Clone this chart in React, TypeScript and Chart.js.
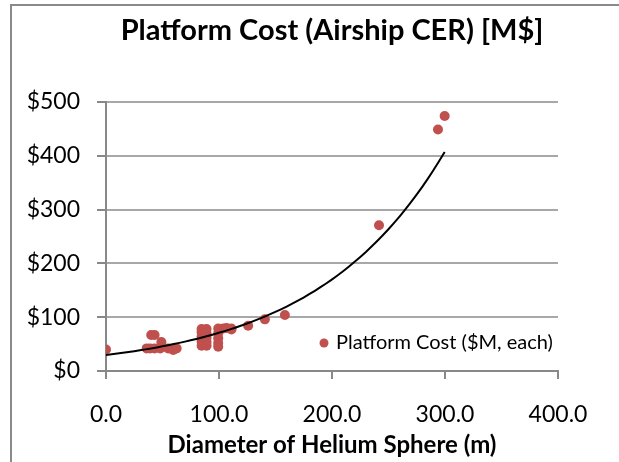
import React, { useEffect, useRef } from "react";
import { Chart, registerables } from "chart.js";

Chart.register(...registerables);

// ---- data ----
const diameters = [
  0, 36, 39, 43, 48, 40, 43, 49, 55, 59.5, 62.5,
  84.6, 84.6, 84.6, 84.6, 84.6,
  89, 89, 89, 89, 89,
  99.3, 99.3, 99.3, 99.3, 99.3,
  103.7, 106.7, 111, 111, 125.8, 140.6, 158.3, 241.6, 293.8, 299.7,
];
const costs = [
  40, 42, 42, 42, 42, 67, 67, 54, 42, 39, 42,
  78, 72, 64, 55, 47,
  78, 70, 62, 54, 47,
  79, 70, 61, 52, 45,
  79, 80, 79, 77, 84, 96, 104, 271, 449, 474,
];
const xTicks = [0, 100, 200, 300, 400];
const yTicks = [0, 100, 200, 300, 400, 500];
const seriesLabel = "Platform Cost ($M, each)";
const chartTitle = "Platform Cost (Airship CER) [M$]";
const xAxisTitle = "Diameter of Helium Sphere (m)";

// exponential trendline (least squares on ln y), as a spreadsheet would fit it
function expFit(xs: number[], ys: number[]) {
  const n = xs.length;
  const ly = ys.map((v) => Math.log(v));
  const mx = xs.reduce((a, b) => a + b, 0) / n;
  const my = ly.reduce((a, b) => a + b, 0) / n;
  let sxx = 0, sxy = 0;
  for (let i = 0; i < n; i++) {
    sxx += (xs[i] - mx) * (xs[i] - mx);
    sxy += (xs[i] - mx) * (ly[i] - my);
  }
  const b = sxy / sxx;
  const a = Math.exp(my - b * mx);
  return { a, b };
}

const RED = "#C0504D";
const AXIS = "#888888";
const GRID = "#a8a8a8";

const insideLegend = {
  id: "insideLegend",
  afterDraw(chart: any) {
    const { ctx, chartArea } = chart;
    const ds = chart.data.datasets[1];
    const x = chartArea.left + 218;
    const y = chartArea.bottom - 28;
    ctx.save();
    ctx.fillStyle = ds.backgroundColor;
    ctx.beginPath();
    ctx.arc(x, y, 4.5, 0, Math.PI * 2);
    ctx.fill();
    ctx.font = "20px Lato";
    ctx.fillStyle = "#000";
    ctx.textBaseline = "middle";
    ctx.textAlign = "left";
    ctx.fillText(ds.label, x + 12, y);
    ctx.restore();
  },
};

export default function App() {
  const ref = useRef<HTMLCanvasElement | null>(null);

  useEffect(() => {
    if (!ref.current) return;
    const { a, b } = expFit(diameters, costs);
    const xMin = Math.min(...diameters);
    const xMax = Math.max(...diameters);
    const trend: { x: number; y: number }[] = [];
    const steps = 60;
    for (let i = 0; i <= steps; i++) {
      const x = xMin + ((xMax - xMin) * i) / steps;
      trend.push({ x, y: a * Math.exp(b * x) });
    }
    const points = diameters.map((x, i) => ({ x, y: costs[i] }));

    const chart = new Chart(ref.current, {
      type: "scatter",
      data: {
        datasets: [
          {
            type: "line",
            label: "Expon. trend",
            data: trend,
            borderColor: "#000",
            borderWidth: 2,
            pointRadius: 0,
            fill: false,
            tension: 0,
          } as any,
          {
            label: seriesLabel,
            data: points,
            backgroundColor: RED,
            borderColor: RED,
            borderWidth: 0,
            pointRadius: 5,
          },
        ],
      },
      plugins: [insideLegend],
      options: {
        animation: false,
        responsive: false,
        devicePixelRatio: 1,
        layout: { padding: { left: 0, right: 61, top: 0, bottom: 0 } },
        plugins: {
          legend: { display: false },
          tooltip: { enabled: false },
          title: {
            display: true,
            text: chartTitle,
            color: "#000",
            fullSize: false,
            font: { family: "Lato", size: 29, weight: "bold" },
            padding: { top: 13, bottom: 54.2 },
          },
        },
        scales: {
          x: {
            type: "linear",
            min: 0,
            max: 400,
            afterFit: (s: any) => {
              s.height = 91;
            },
            afterBuildTicks: (s: any) => {
              s.ticks = xTicks.map((v) => ({ value: v }));
            },
            ticks: {
              color: "#000",
              font: { family: "Lato", size: 23 },
              padding: 22,
              callback: (v: any) => Number(v).toFixed(1),
            },
            grid: {
              drawOnChartArea: false,
              drawTicks: true,
              tickLength: 8,
              tickColor: AXIS,
              lineWidth: 2,
              color: AXIS,
            },
            border: { display: true, color: AXIS, width: 2 },
            title: {
              display: true,
              text: xAxisTitle,
              color: "#000",
              font: { family: "Lato", size: 24, weight: "bold" },
              padding: { top: 0, bottom: 2 },
            },
          },
          y: {
            type: "linear",
            min: 0,
            max: 500,
            afterFit: (s: any) => {
              s.width = 106;
            },
            afterBuildTicks: (s: any) => {
              s.ticks = yTicks.map((v) => ({ value: v }));
            },
            ticks: {
              color: "#000",
              font: { family: "Lato", size: 23 },
              padding: 17,
              callback: (v: any) => "$" + v,
            },
            grid: {
              color: GRID,
              lineWidth: 2,
              drawTicks: true,
              tickLength: 9,
              tickColor: AXIS,
            },
            border: { display: true, color: AXIS, width: 2 },
          },
        },
      },
    });
    return () => chart.destroy();
  }, []);

  return (
    <div
      style={{
        position: "fixed",
        left: 0,
        top: 0,
        width: 619,
        height: 462,
        overflow: "hidden",
        background: "#fff",
      }}
    >
      <div
        style={{
          position: "absolute",
          left: 10,
          top: 4,
          width: 800,
          height: 800,
          borderTop: "2px solid #8a8a8a",
          borderLeft: "2px solid #8a8a8a",
        }}
      />
      <canvas
        ref={ref}
        width={619}
        height={462}
        style={{ position: "absolute", left: 0, top: 0 }}
      />
    </div>
  );
}
